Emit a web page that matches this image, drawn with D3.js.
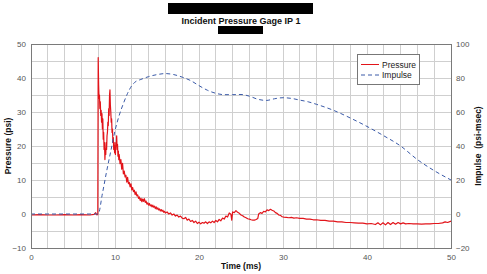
<!DOCTYPE html>
<html><head><meta charset="utf-8">
<script src="https://cdn.jsdelivr.net/npm/d3@7"></script>
<style>
body{margin:0;background:#fff;}
svg{display:block;font-family:"Liberation Sans",Arial,sans-serif;}
</style></head><body>
<div id="chart"></div>
<script>
// Pressure samples: [time ms, pressure psi]
const pressureSeries = [
[0,-0.3],[1,-0.2],[2,-0.3],[3,-0.3],[4,-0.2],[5,-0.3],[6,-0.2],[7,-0.3],[7.5,-0.1],[7.7,0.4],[7.8,-0.2],[7.95,-0.2],
[8.0,46],[8.05,38],[8.1,34],[8.15,35],[8.2,31],[8.25,33],[8.3,29],[8.35,30.5],[8.4,27],[8.45,29.5],[8.5,25],[8.55,28],
[8.6,22],[8.65,24],[8.7,19],[8.75,21],[8.8,16],[8.85,19],[8.9,17.5],[8.95,21],
[9.0,19],[9.05,23],[9.1,24],[9.15,27],[9.2,26],[9.25,31],[9.3,29],[9.35,35],[9.4,36.5],[9.45,32],[9.5,30],[9.55,27],
[9.6,28],[9.65,24],[9.7,25],[9.75,21],[9.8,22.5],[9.85,19],[9.9,21],[9.95,18],
[10.0,20],[10.05,17.5],[10.1,21],[10.15,20],[10.2,23],[10.25,19],[10.3,20.5],[10.35,17],[10.4,18.5],[10.45,16],
[10.5,17.5],[10.6,14.8],[10.7,16.0],[10.8,13.2],[10.9,14.9],[11.0,11.8],[11.1,12.6],[11.2,10.9],[11.3,11.4],[11.4,9.4],
[11.5,10.8],[11.6,8.9],[11.7,9.3],[11.8,8.0],[11.9,8.9],[12.0,7.1],[12.1,7.8],[12.2,6.6],[12.3,7.0],[12.4,5.7],
[12.5,6.5],[12.6,5.3],[12.7,5.6],[12.8,4.6],[12.9,5.0],[13.0,4.0],[13.1,4.6],[13.2,3.6],[13.3,4.4],[13.4,3.7],
[13.5,4.5],[13.6,3.4],[13.7,3.8],[13.8,2.9],[13.9,3.3],[14.0,2.6],[14.1,3.1],[14.2,2.4],[14.3,2.7],[14.4,2.1],
[14.5,2.6],[14.6,2.0],[14.7,2.3],[14.8,1.6],[14.9,2.1],[15.0,1.4],[15.1,1.8],[15.2,1.2],[15.3,1.5],[15.4,0.9],
[15.5,1.3],[15.6,0.8],[15.7,1.1],[15.8,0.5],[15.9,0.8],[16.0,0.3],[16.2,0.6],[16.4,0.0],[16.6,0.3],[16.8,-0.3],
[17.0,0.0],[17.2,-0.6],[17.4,-0.3],[17.6,-0.9],[17.8,-0.6],[18.0,-1.2],
[18.2,-1.4],[18.4,-1.0],[18.6,-1.8],[18.8,-1.5],[19.0,-2.2],[19.2,-1.9],[19.4,-2.5],[19.6,-2.1],[19.8,-2.8],
[20.0,-2.4],[20.2,-2.9],[20.4,-2.5],[20.6,-2.7],[20.8,-2.3],[21.0,-2.8],[21.2,-2.3],[21.4,-2.6],[21.6,-2.1],[21.8,-2.5],
[22.0,-1.9],[22.2,-2.3],[22.4,-1.6],[22.6,-2.0],[22.8,-1.2],[23.0,-1.5],[23.2,-0.6],[23.4,-0.9],[23.6,0.3],[23.8,-0.1],
[23.9,-1.8],[24.0,0.6],[24.2,0.4],[24.4,1.0],[24.6,0.5],[24.8,0.2],[25.0,-0.3],[25.2,-0.5],[25.4,-0.9],[25.6,-1.1],[25.8,-1.4],
[26.0,-1.5],[26.2,-1.7],[26.4,-1.8],[26.6,-1.8],[26.8,-1.6],[27.0,-1.3],[27.1,0.0],[27.3,0.4],[27.5,0.2],[27.7,0.8],[27.9,0.6],
[28.1,1.2],[28.3,1.0],[28.5,1.4],[28.7,1.1],[28.9,0.9],[29.1,0.4],[29.3,0.2],[29.5,-0.3],[29.7,-0.4],[29.9,-0.8],
[30.1,-0.9],[30.4,-1.0],[30.7,-1.1],[31,-1.0],[31.3,-1.2],[31.6,-1.1],[32,-1.3],[32.4,-1.3],[32.8,-1.5],[33.2,-1.5],
[33.6,-1.7],[34,-1.7],[34.5,-1.9],[35,-1.9],[35.5,-2.1],[36,-2.1],[36.5,-2.3],[37,-2.3],[37.5,-2.5],[38,-2.5],
[38.5,-2.6],[39,-2.7],[39.5,-2.7],[40,-2.9],[40.5,-2.8],[41,-3.1],[41.3,-2.6],[41.6,-3.2],[41.9,-2.6],[42.2,-3.2],
[42.5,-2.5],[42.8,-3.1],[43.1,-2.5],[43.4,-3.0],[43.7,-2.5],[44,-2.9],[44.3,-2.6],[44.6,-2.9],[45,-2.8],[45.5,-2.9],
[46,-2.9],[46.5,-3.0],[47,-2.9],[47.5,-2.9],[48,-2.8],[48.5,-2.8],[49,-2.6],[49.3,-2.3],[49.6,-2.5],[50,-2.1]
];

const impulseTime = [0,2,4,6,7.9,8,8.5,9,9.5,10,10.5,11,11.5,12,12.5,13,14,15,16,17,18,19,20,21,22,23,24,25,26,27,28,29,30,31,32,33,34,36,38,40,42,44,46,48,50];
const impulseValues = [0,0,0,0,0,0,12,25,37,49,58,65,71,75.5,78,79,80.8,82,82.6,82,80.5,78.5,75.5,72.8,71,70.2,70.2,70.3,69.3,67.5,66.8,67.8,68.4,68,67,66,64.5,61,56.5,51.5,46,40,32,25.5,20];

const xTicks = [0,10,20,30,40,50];
const yLeftTicks = [-10,0,10,20,30,40,50];
const yRightTicks = [-20,0,20,40,60,80,100];

const W = 487, H = 274;
const m = {left:31, right:451, top:44, bottom:248};
const svg = d3.select("#chart").append("svg").attr("width",W).attr("height",H);

const x = d3.scaleLinear().domain([0,50]).range([m.left,m.right]);
const yL = d3.scaleLinear().domain([-10,50]).range([m.bottom,m.top]);
const yR = d3.scaleLinear().domain([-20,100]).range([m.bottom,m.top]);

// grid
const g = svg.append("g");
g.selectAll(".vg").data(d3.range(0,51,2)).join("line")
  .attr("x1",d=>x(d)).attr("x2",d=>x(d)).attr("y1",m.top).attr("y2",m.bottom)
  .attr("stroke","#cfcfcf").attr("stroke-width",1).attr("shape-rendering","crispEdges");
g.selectAll(".hg").data(d3.range(-10,51,5)).join("line")
  .attr("x1",m.left).attr("x2",m.right).attr("y1",d=>yL(d)).attr("y2",d=>yL(d))
  .attr("stroke","#cfcfcf").attr("stroke-width",1).attr("shape-rendering","crispEdges");

// axes
const axB = d3.axisBottom(x).tickValues(xTicks).tickSize(0).tickPadding(6);
const axL = d3.axisLeft(yL).tickValues(yLeftTicks).tickSize(0).tickPadding(5);
const axR = d3.axisRight(yR).tickValues(yRightTicks).tickSize(0).tickPadding(5);
function styleAxis(sel){
  sel.select(".domain").remove();
  sel.selectAll("text").attr("fill","#555").style("font-size","8px").style("font-family","'Liberation Sans',Arial,sans-serif");
}
svg.append("g").attr("transform",`translate(0,${m.bottom})`).call(axB).call(styleAxis);
svg.append("g").attr("transform",`translate(${m.left},0)`).call(axL).call(styleAxis);
svg.append("g").attr("transform",`translate(${m.right},0)`).call(axR).call(styleAxis);

// lines
const iData = impulseTime.map((t,i)=>[t,impulseValues[i]]);
svg.append("path").datum(pressureSeries)
  .attr("d",d3.line().x(d=>x(d[0])).y(d=>yL(d[1])))
  .attr("fill","none").attr("stroke","#e2141a").attr("stroke-width",1.2).attr("stroke-linejoin","round");
svg.append("path").datum(iData)
  .attr("d",d3.line().curve(d3.curveMonotoneX).x(d=>x(d[0])).y(d=>yR(d[1])))
  .attr("fill","none").attr("stroke","#3a5aa8").attr("stroke-width",1).attr("stroke-dasharray","4,3");

// border
svg.append("rect").attr("x",m.left).attr("y",m.top).attr("width",m.right-m.left).attr("height",m.bottom-m.top)
  .attr("fill","none").attr("stroke","#7a7a7a").attr("stroke-width",1).attr("shape-rendering","crispEdges");

// legend
const lg = svg.append("g");
lg.append("rect").attr("x",357).attr("y",54).attr("width",62).attr("height",30)
  .attr("fill","#fff").attr("stroke","#777").attr("stroke-width",1).attr("shape-rendering","crispEdges");
lg.append("line").attr("x1",361).attr("x2",379).attr("y1",64.5).attr("y2",64.5).attr("stroke","#e2141a").attr("stroke-width",1);
lg.append("line").attr("x1",361).attr("x2",379).attr("y1",75).attr("y2",75).attr("stroke","#3a5aa8").attr("stroke-width",1).attr("stroke-dasharray","4,3");
lg.append("text").attr("x",382).attr("y",67.5).text("Pressure").style("font-size","8.5px").attr("fill","#222");
lg.append("text").attr("x",382).attr("y",78).text("Impulse").style("font-size","8.5px").attr("fill","#222");

// titles
svg.append("rect").attr("x",168).attr("y",3).attr("width",145).attr("height",11).attr("fill","#000");
svg.append("text").attr("x",241).attr("y",23.5).attr("text-anchor","middle").style("font-size","9px").style("font-weight","bold").attr("fill","#111").text("Incident Pressure Gage IP 1");
svg.append("rect").attr("x",218).attr("y",26).attr("width",45).attr("height",8).attr("fill","#000");

svg.append("text").attr("x",241).attr("y",269).attr("text-anchor","middle").style("font-size","8.5px").style("font-weight","bold").attr("fill","#111").text("Time (ms)");
svg.append("text").attr("transform","translate(11,146) rotate(-90)").attr("text-anchor","middle").style("font-size","8.5px").style("font-weight","bold").attr("fill","#111").text("Pressure (psi)");
svg.append("text").attr("transform","translate(481,146) rotate(-90)").attr("text-anchor","middle").style("font-size","8.5px").style("font-weight","bold").attr("fill","#111").style("white-space","pre").text("Impulse  (psi-msec)");
</script>
</body></html>
